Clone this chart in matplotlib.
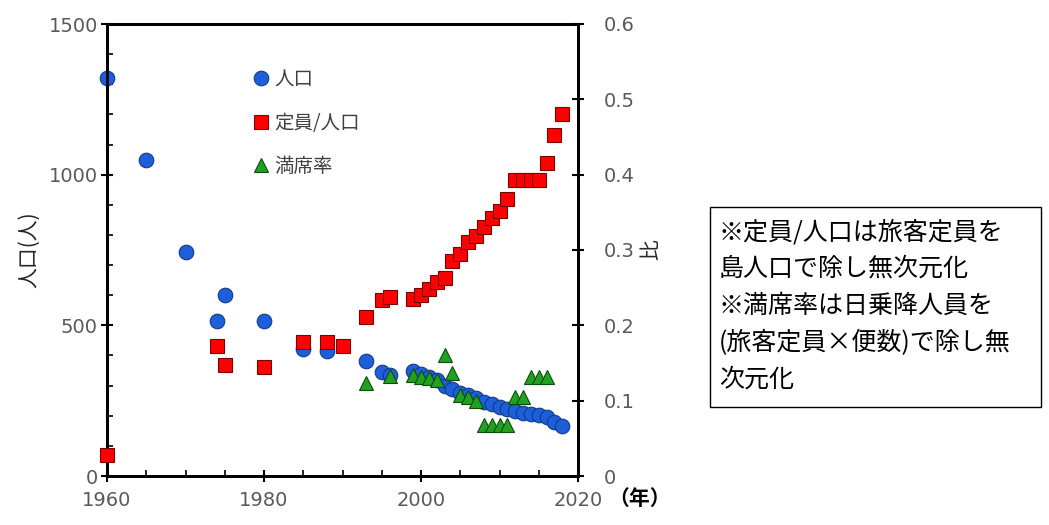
import matplotlib
matplotlib.use("Agg")
import matplotlib.pyplot as plt
from matplotlib.lines import Line2D
from matplotlib.patches import Rectangle
from matplotlib.ticker import MultipleLocator

plt.rcParams['font.family'] = ['DejaVu Sans', 'Noto Sans CJK JP']
CJK = ['Noto Sans CJK JP', 'DejaVu Sans']

# 人口 (left axis)
pop_years = [1960, 1965, 1970, 1974, 1975, 1980, 1985, 1988, 1993, 1995, 1996,
             1999, 2000, 2001, 2002, 2003, 2004, 2005, 2006, 2007, 2008, 2009,
             2010, 2011, 2012, 2013, 2014, 2015, 2016, 2017, 2018]
pop_values = [1320, 1050, 745, 515, 600, 515, 420, 415, 382, 345, 335,
              350, 340, 330, 318, 300, 288, 275, 268, 258, 245, 238,
              228, 222, 215, 210, 206, 202, 195, 180, 165]

# 定員/人口 (right axis)
cap_years = [1960, 1974, 1975, 1980, 1985, 1988, 1990, 1993, 1995, 1996,
             1999, 2000, 2001, 2002, 2003, 2004, 2005, 2006, 2007, 2008, 2009,
             2010, 2011, 2012, 2013, 2014, 2015, 2016, 2017, 2018]
cap_values = [0.028, 0.173, 0.147, 0.145, 0.178, 0.178, 0.173, 0.211, 0.234, 0.238,
              0.235, 0.240, 0.248, 0.258, 0.263, 0.285, 0.295, 0.310, 0.318, 0.330, 0.342,
              0.352, 0.368, 0.393, 0.393, 0.393, 0.393, 0.415, 0.453, 0.480]

# 満席率 (right axis)
load_years = [1993, 1996, 1999, 2000, 2001, 2002, 2003, 2004, 2005, 2006, 2007,
              2008, 2009, 2010, 2011, 2012, 2013, 2014, 2015, 2016]
load_values = [0.123, 0.133, 0.134, 0.131, 0.130, 0.127, 0.160, 0.137, 0.108, 0.105, 0.100,
               0.068, 0.068, 0.068, 0.068, 0.105, 0.105, 0.132, 0.132, 0.132]

legend_labels = ['人口', '定員/人口', '満席率']
note_lines = ['※定員/人口は旅客定員を', '島人口で除し無次元化', '※満席率は日乗降人員を',
              '(旅客定員×便数)で除し無', '次元化']

W, H = 1049, 525
fig = plt.figure(figsize=(W / 100, H / 100), dpi=100)
ax = fig.add_axes([107 / W, 1 - 476 / H, (578 - 107) / W, (476 - 24) / H])
ax2 = ax.twinx()

blue, blue_e = '#1d5fd8', '#123a8c'
red, red_e = '#ff0000', '#7a0000'
green, green_e = '#22a022', '#0b4d0b'
ms = 10.5

ax.plot(pop_years, pop_values, 'o', ms=ms, mfc=blue, mec=blue_e, mew=0.8, clip_on=False, zorder=3)
ax2.plot(cap_years, cap_values, 's', ms=ms, mfc=red, mec=red_e, mew=0.8, clip_on=False, zorder=3)
ax2.plot(load_years, load_values, '^', ms=ms, mfc=green, mec=green_e, mew=0.8, clip_on=False, zorder=4)

ax.set_xlim(1960, 2020)
ax.set_ylim(0, 1500)
ax2.set_ylim(0, 0.6)

tick_color = '#595959'
ax.xaxis.set_major_locator(MultipleLocator(20))
ax.xaxis.set_minor_locator(MultipleLocator(5))
ax.yaxis.set_major_locator(MultipleLocator(500))
ax.yaxis.set_minor_locator(MultipleLocator(100))
ax2.yaxis.set_major_locator(MultipleLocator(0.1))
ax2.yaxis.set_major_formatter(plt.FuncFormatter(lambda v, p: '0' if abs(v) < 1e-9 else f'{v:.1f}'))

ax.tick_params(axis='x', which='major', direction='inout', length=9, width=1.5,
               labelsize=14, labelcolor=tick_color, pad=6)
ax.tick_params(axis='y', which='major', direction='inout', length=9, width=1.5,
               labelsize=14, labelcolor=tick_color, pad=2)
ax.tick_params(axis='both', which='minor', direction='in', length=4, width=1.2)
ax2.tick_params(axis='y', which='major', direction='inout', length=9, width=1.5,
                labelsize=14, labelcolor=tick_color, pad=14)

for a in (ax, ax2):
    for s in a.spines.values():
        s.set_linewidth(2)
        s.set_color('black')

ax.set_ylabel('人口(人)', family=CJK, fontsize=15, color='#262626', labelpad=6)
ax2.set_ylabel('比', family=CJK, fontsize=15, color='#262626', labelpad=4)

fig.text(608 / W, 1 - 498 / H, '（年）', family=CJK, fontsize=15, fontweight='bold',
         ha='left', va='center')

handles = [
    Line2D([], [], ls='none', marker='o', ms=ms, mfc=blue, mec=blue_e, mew=0.8),
    Line2D([], [], ls='none', marker='s', ms=ms * 0.9, mfc=red, mec=red_e, mew=0.8),
    Line2D([], [], ls='none', marker='^', ms=ms * 0.9, mfc=green, mec=green_e, mew=0.8),
]
leg = ax2.legend(handles, legend_labels, loc='upper left', bbox_to_anchor=(0.31, 0.9),
                 frameon=False, handlelength=0.8, handletextpad=0.3, labelspacing=1.15,
                 borderaxespad=0, borderpad=0,
                 prop={'family': CJK, 'size': 14})
for t in leg.get_texts():
    t.set_color('#404040')

# note box
fig.patches.append(Rectangle((710 / W, 1 - 407 / H), (1041 - 710) / W, (407 - 207) / H,
                             transform=fig.transFigure, fill=False, ec='black', lw=1.0))
for i, line in enumerate(note_lines):
    fig.text(719 / W, 1 - (232 + 37 * i) / H, line, family=CJK, fontsize=18,
             ha='left', va='center', color='black')

fig.savefig('out.png', dpi=100)
